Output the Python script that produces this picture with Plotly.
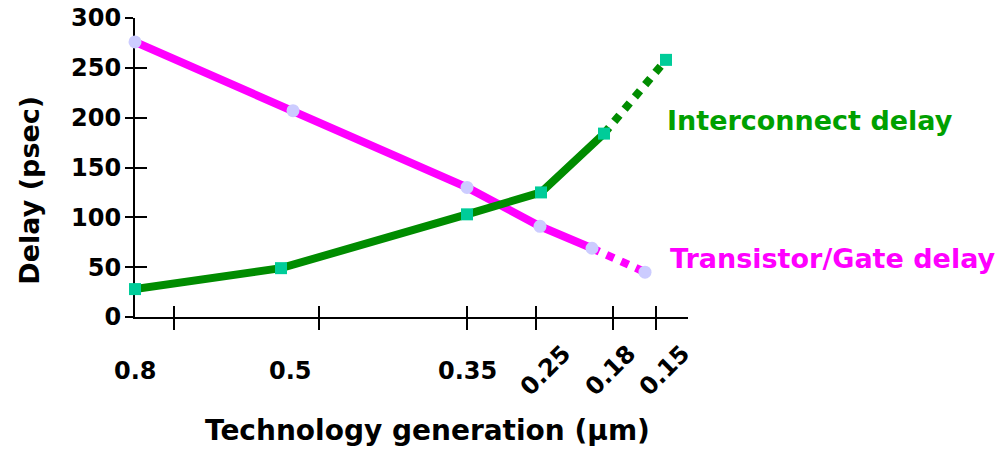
import plotly.graph_objects as go

# Positions along the technology-generation axis (uneven spacing, as in the slide)
gate_pos = [0, 158, 332, 405, 457, 510]
gate_delay = [276, 207, 130, 91, 69, 45]

wire_pos = [0, 146, 332, 406, 469, 531]
wire_delay = [28, 49, 103, 125, 184, 258]

gen_tick_pos = [39, 184, 332, 401, 478, 521]
gen_labels = ["0.8", "0.5", "0.35", "0.25", "0.18", "0.15"]
gen_label_pos = [0, 155, 332, 410, 475, 529]
gen_label_angle = [0, 0, 0, -45, -45, -45]

delay_ticks = [0, 50, 100, 150, 200, 250, 300]

MAGENTA = "#FF00FF"
GATE_MARK = "#CCCCFF"
GREEN = "#008C00"
WIRE_MARK = "#00CC99"
TEXT_GREEN = "#00A000"
FONT = "DejaVu Sans"
AXIS_END = 553
PLOT_W = 863
LINE_W = 8

fig = go.Figure()

# Gate delay: solid for measured generations, dotted for the projected one
fig.add_trace(go.Scatter(x=gate_pos[:5], y=gate_delay[:5], mode="lines",
                         line=dict(color=MAGENTA, width=LINE_W), hoverinfo="skip"))
fig.add_trace(go.Scatter(x=gate_pos[4:], y=gate_delay[4:], mode="lines",
                         line=dict(color=MAGENTA, width=LINE_W, dash="dot"), hoverinfo="skip"))
# Interconnect delay
fig.add_trace(go.Scatter(x=wire_pos[:5], y=wire_delay[:5], mode="lines",
                         line=dict(color=GREEN, width=LINE_W), hoverinfo="skip"))
fig.add_trace(go.Scatter(x=wire_pos[4:], y=wire_delay[4:], mode="lines",
                         line=dict(color=GREEN, width=LINE_W, dash="dot"), hoverinfo="skip"))
# Markers on top
fig.add_trace(go.Scatter(x=gate_pos, y=gate_delay, mode="markers", cliponaxis=False,
                         marker=dict(symbol="circle", size=13, color=GATE_MARK,
                                     line=dict(width=0))))
fig.add_trace(go.Scatter(x=wire_pos, y=wire_delay, mode="markers", cliponaxis=False,
                         marker=dict(symbol="square", size=12, color=WIRE_MARK,
                                     line=dict(width=0))))

# Helper traces so the extra axes (crossing tick marks, short x axis) get drawn
fig.add_trace(go.Scatter(x=[None], y=[None], xaxis="x", yaxis="y2", showlegend=False))
fig.add_trace(go.Scatter(x=[None], y=[None], xaxis="x2", yaxis="y", showlegend=False))
fig.add_trace(go.Scatter(x=[None], y=[None], xaxis="x3", yaxis="y", showlegend=False))

annotations = []
for pos, txt, ang in zip(gen_label_pos, gen_labels, gen_label_angle):
    annotations.append(dict(x=pos, y=-0.18, xref="x", yref="paper", text=f"<b>{txt}</b>",
                            showarrow=False, textangle=ang, xanchor="center", yanchor="middle",
                            font=dict(family=FONT, size=24, color="black")))

annotations += [
    dict(x=530, y=197, xref="x", yref="y", text="<b>Interconnect delay</b>", showarrow=False,
         xanchor="left", yanchor="middle", font=dict(family=FONT, size=27, color=TEXT_GREEN)),
    dict(x=533, y=59, xref="x", yref="y", text="<b>Transistor/Gate delay</b>", showarrow=False,
         xanchor="left", yanchor="middle", font=dict(family=FONT, size=27, color=MAGENTA)),
    dict(x=0.3395, y=-0.378, xref="paper", yref="paper", text="<b>Technology generation (μm)</b>",
         showarrow=False, xanchor="center", yanchor="middle",
         font=dict(family=FONT, size=28, color="black")),
    dict(x=-0.122, y=0.425, xref="paper", yref="paper", text="<b>Delay (psec)</b>",
         showarrow=False, textangle=-90, xanchor="center", yanchor="middle",
         font=dict(family=FONT, size=27, color="black")),
]

fig.update_layout(
    width=998, height=449,
    margin=dict(l=135, r=0, t=18, b=132),
    paper_bgcolor="white", plot_bgcolor="rgba(0,0,0,0)",
    showlegend=False,
    annotations=annotations,
    xaxis=dict(range=[0, PLOT_W], domain=[0, 1], showline=False, showgrid=False,
               zeroline=False, showticklabels=False, ticks=""),
    xaxis2=dict(range=[0, AXIS_END], domain=[0, AXIS_END / PLOT_W], anchor="y",
                showline=True, linecolor="black", linewidth=2, showgrid=False, zeroline=False,
                tickmode="array", tickvals=gen_tick_pos, ticks="outside", ticklen=11,
                tickwidth=2, tickcolor="black", showticklabels=False),
    xaxis3=dict(range=[0, AXIS_END], overlaying="x2", anchor="y", showline=False,
                showgrid=False, zeroline=False, tickmode="array", tickvals=gen_tick_pos,
                ticks="inside", ticklen=11, tickwidth=2, tickcolor="black",
                showticklabels=False),
    yaxis=dict(range=[0, 300], domain=[0, 1], showline=True, linecolor="black", linewidth=2,
               showgrid=False, zeroline=False, tickmode="array", tickvals=delay_ticks,
               ticks="outside", ticklen=8, tickwidth=2, tickcolor="black",
               ticklabelstandoff=-1, layer="below traces",
               tickfont=dict(family=FONT, size=24, color="black", weight="bold")),
    yaxis2=dict(range=[0, 300], overlaying="y", anchor="x", side="left", showline=False,
                showgrid=False, zeroline=False, tickmode="array", tickvals=delay_ticks,
                ticks="inside", ticklen=12, tickwidth=2, tickcolor="black",
                showticklabels=False),
)

fig.write_html("out.html")
